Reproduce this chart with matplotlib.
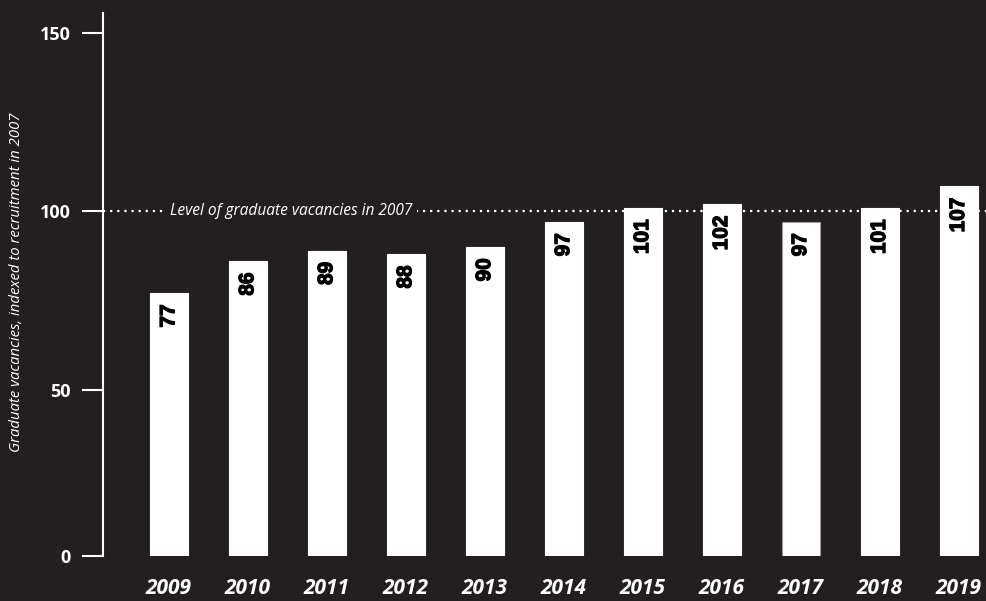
import matplotlib.pyplot as plt
import matplotlib.patheffects as pe

# graduate vacancies, indexed to 2007 = 100
years = ["2009", "2010", "2011", "2012", "2013", "2014",
         "2015", "2016", "2017", "2018", "2019"]
index_values = [77, 86, 89, 88, 90, 97, 101, 102, 97, 101, 107]
baseline = 100
baseline_label = "Level of graduate vacancies in 2007"
y_ticks = [3.4, 50, 100, 150]
y_tick_labels = ["0", "50", "100", "150"]
y_title = "Graduate vacancies, indexed to recruitment in 2007"

BG = "#231f20"
FG = "white"

plt.rcParams["font.family"] = ["Open Sans", "DejaVu Sans"]

fig = plt.figure(figsize=(9.87, 6.01), dpi=100, facecolor=BG)
ax = fig.add_axes([0.1044, 0.0749, 0.8956, 0.904])
ax.set_facecolor(BG)

x = list(range(len(years)))
edges = ["#999999" if y == "2017" else FG for y in years]
bars = ax.bar(x, index_values, width=0.48, color=FG, edgecolor=edges,
              linewidth=0.8, zorder=3)

# value labels, rotated and tucked under the top of each bar
heavy = [pe.withStroke(linewidth=0.9, foreground="black")]
for rect, v in zip(bars, index_values):
    ax.annotate(str(v), (rect.get_x() + rect.get_width() / 2, v),
                xytext=(0, -8), textcoords="offset points",
                rotation=90, ha="center", va="top", fontsize=15,
                fontweight="bold", family="Liberation Sans", color="black",
                path_effects=heavy, zorder=4)

# 2007 reference level
ax.axhline(baseline, color=FG, linestyle=(0, (1, 2.2)), linewidth=1.6, zorder=2)
ax.text(-0.03, baseline, " " + baseline_label + " ", ha="left", va="center",
        fontsize=11.2, style="italic", color=FG, zorder=2.5,
        bbox=dict(facecolor=BG, edgecolor="none", pad=0.5))

ax.set_xlim(-0.833, 10.36)
ax.set_ylim(3.4, 155.7)

ax.set_yticks(y_ticks)
ax.set_yticklabels(y_tick_labels, fontsize=13, fontweight="bold", color=FG)
ax.tick_params(axis="y", length=15, width=1.5, color=FG, pad=8)

ax.set_xticks(x)
ax.set_xticklabels(years, fontsize=15, fontweight="bold", style="italic", color=FG)
ax.tick_params(axis="x", length=0, pad=16)

for side in ["top", "right", "bottom"]:
    ax.spines[side].set_visible(False)
ax.spines["left"].set_color(FG)
ax.spines["left"].set_linewidth(1.5)

fig.text(0.017, 0.531, y_title, rotation=90, ha="center", va="center",
         fontsize=10.7, style="italic", color=FG)

fig.savefig("out.png", facecolor=BG)
